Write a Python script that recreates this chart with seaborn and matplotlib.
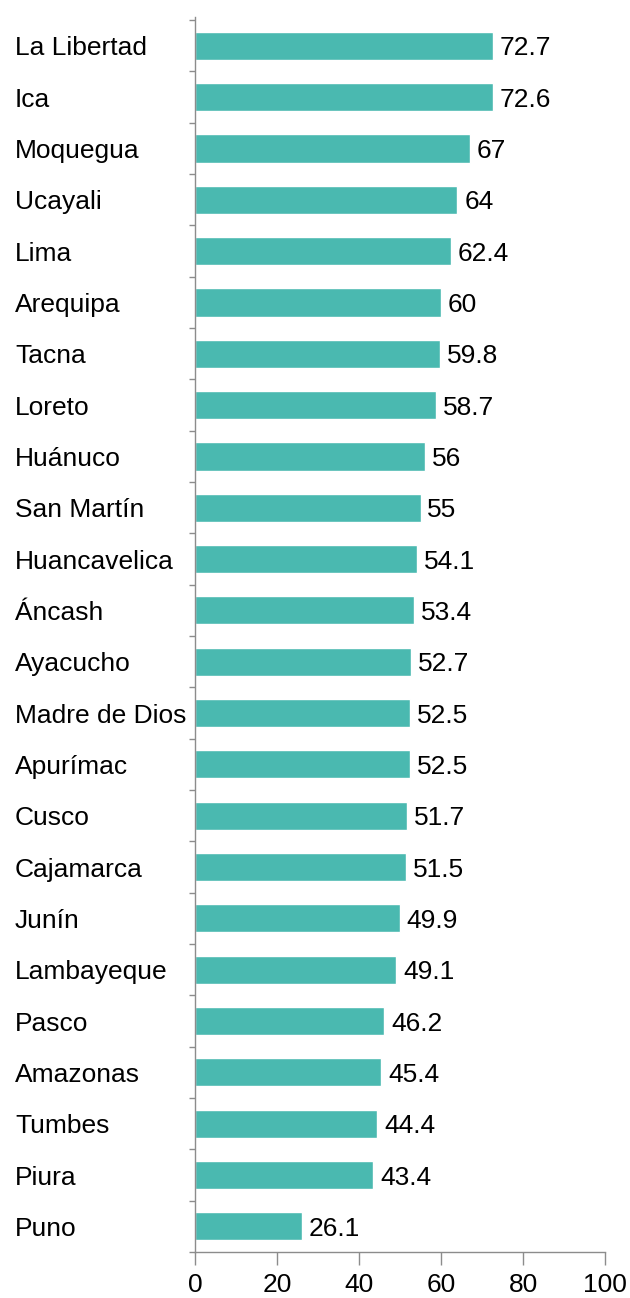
import numpy as np
import pandas as pd
import matplotlib
matplotlib.use("Agg")
import matplotlib.pyplot as plt
import seaborn as sns

regions = [
    "La Libertad", "Ica", "Moquegua", "Ucayali", "Lima", "Arequipa", "Tacna",
    "Loreto", "Huánuco", "San Martín", "Huancavelica", "Áncash", "Ayacucho",
    "Madre de Dios", "Apurímac", "Cusco", "Cajamarca", "Junín", "Lambayeque",
    "Pasco", "Amazonas", "Tumbes", "Piura", "Puno",
]
values = [
    72.7, 72.6, 67, 64, 62.4, 60, 59.8, 58.7, 56, 55, 54.1, 53.4, 52.7,
    52.5, 52.5, 51.7, 51.5, 49.9, 49.1, 46.2, 45.4, 44.4, 43.4, 26.1,
]
x_ticks = [0, 20, 40, 60, 80, 100]

df = pd.DataFrame({"region": regions, "value": values})

sns.set_style("white")
plt.rcParams["font.family"] = ["Liberation Sans", "DejaVu Sans"]

FS = 19
GREY = "#8c8c8c"

fig = plt.figure(figsize=(6.3, 12.98), dpi=100)
ax = fig.add_axes([195 / 630, 1 - 1252 / 1298, 410 / 630, (1252 - 17) / 1298])

sns.barplot(data=df, x="value", y="region", orient="h", color="#4ab9b0",
            saturation=1, width=0.55, ax=ax)

texts = ax.bar_label(ax.containers[0], labels=[f"{v:g}" for v in values],
                     padding=5, fontsize=FS, color="black")
# value labels sit a touch below the bar centre in the original
for t in texts:
    dx, dy = t.xyann
    t.xyann = (dx, dy - 1.8)

ax.set_xlim(0, 100)
ax.set_ylim(len(regions) - 0.5, -0.56)
ax.set_xticks(x_ticks)
ax.set_xticklabels([str(t) for t in x_ticks])
ax.set_xlabel("")
ax.set_ylabel("")

# category labels left-aligned at the figure edge
ax.tick_params(axis="y", which="major", left=True, length=0, pad=129.6,
               labelsize=FS, labelcolor="black")
for lbl in ax.get_yticklabels():
    lbl.set_horizontalalignment("left")
ax.set_yticks(np.arange(-0.5, len(regions)), minor=True)
ax.tick_params(axis="y", which="minor", left=True, length=4, width=1,
               color=GREY, direction="out")
ax.tick_params(axis="x", bottom=True, length=9, width=1, color=GREY,
               direction="out", pad=6, labelsize=FS, labelcolor="black")

for side in ["top", "right"]:
    ax.spines[side].set_visible(False)
for side in ["left", "bottom"]:
    ax.spines[side].set_color(GREY)
    ax.spines[side].set_linewidth(1)

fig.savefig("out.png", dpi=100)
